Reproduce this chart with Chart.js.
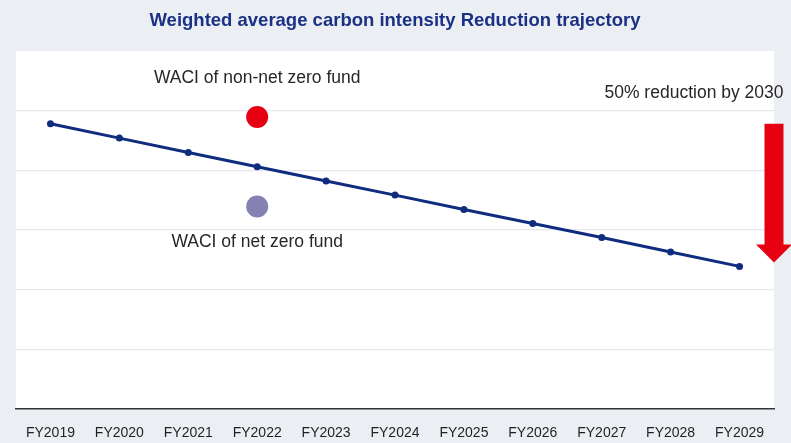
<!DOCTYPE html>
<html>
<head>
<meta charset="utf-8">
<script src="https://cdn.jsdelivr.net/npm/chart.js@4.4.1/dist/chart.umd.min.js"></script>
<style>
  html, body { margin: 0; padding: 0; background: #ebeef2; }
  #wrap { width: 791px; height: 443px; position: relative; }
</style>
</head>
<body>
<div id="wrap"><canvas id="c" width="791" height="443"></canvas></div>
<script>
const categories = ['FY2019','FY2020','FY2021','FY2022','FY2023','FY2024','FY2025','FY2026','FY2027','FY2028','FY2029'];
const trajectory = [95.6, 90.8, 86.0, 81.2, 76.4, 71.7, 66.9, 62.2, 57.5, 52.6, 47.8];
const nonNetZeroFund = [null, null, null, 97.9, null, null, null, null, null, null, null];
const netZeroFund = [null, null, null, 67.9, null, null, null, null, null, null, null];
const yTicks = [0, 20, 40, 60, 80, 100, 120];
const titleText = 'Weighted average carbon intensity Reduction trajectory';
const labelNonNet = 'WACI of non-net zero fund';
const labelNet = 'WACI of net zero fund';
const labelTarget = '50% reduction by 2030';

const FONT = '"Liberation Sans", Arial, Helvetica, sans-serif';

const panelPlugin = {
  id: 'panel',
  beforeDraw(chart) {
    const { ctx, chartArea: a } = chart;
    ctx.save();
    ctx.fillStyle = '#ebeef2';
    ctx.fillRect(0, 0, chart.width, chart.height);
    ctx.fillStyle = '#ffffff';
    ctx.fillRect(a.left, a.top, a.right - a.left, a.bottom - a.top);
    ctx.restore();
  }
};

const annotPlugin = {
  id: 'annot',
  afterDraw(chart) {
    const { ctx, chartArea: a, scales: { x, y } } = chart;
    ctx.save();
    ctx.font = '17.5px ' + FONT;
    ctx.fillStyle = '#2a2627';
    ctx.textAlign = 'center';
    ctx.textBaseline = 'middle';
    const i = nonNetZeroFund.findIndex(v => v !== null);
    const j = netZeroFund.findIndex(v => v !== null);
    ctx.fillText(labelNonNet, x.getPixelForValue(i), y.getPixelForValue(nonNetZeroFund[i]) - 39);
    ctx.fillText(labelNet, x.getPixelForValue(j), y.getPixelForValue(netZeroFund[j]) + 36);

    // arrow
    const cx = a.right;
    const top = y.getPixelForValue(trajectory[0]);
    const tip = y.getPixelForValue(trajectory[trajectory.length - 1]) - 4;
    const shaftHalf = 9.5, headHalf = 18, headLen = 18;
    ctx.fillStyle = '#e60012';
    ctx.beginPath();
    ctx.moveTo(cx - shaftHalf, top);
    ctx.lineTo(cx + shaftHalf, top);
    ctx.lineTo(cx + shaftHalf, tip - headLen);
    ctx.lineTo(cx + headHalf, tip - headLen);
    ctx.lineTo(cx, tip);
    ctx.lineTo(cx - headHalf, tip - headLen);
    ctx.lineTo(cx - shaftHalf, tip - headLen);
    ctx.closePath();
    ctx.fill();

    ctx.fillStyle = '#2a2627';
    ctx.textAlign = 'right';
    ctx.fillText(labelTarget, cx + shaftHalf, top - 31);
    ctx.restore();
  }
};

new Chart(document.getElementById('c'), {
  type: 'line',
  data: {
    labels: categories,
    datasets: [
      {
        data: trajectory,
        borderColor: '#0f2c7e',
        backgroundColor: '#0f2c7e',
        borderWidth: 3,
        pointRadius: 3.5,
        pointBorderWidth: 0,
        tension: 0,
        order: 2
      },
      {
        data: nonNetZeroFund,
        showLine: false,
        pointRadius: 11,
        pointBorderWidth: 0,
        backgroundColor: '#e60012',
        borderColor: '#e60012',
        order: 1
      },
      {
        data: netZeroFund,
        showLine: false,
        pointRadius: 11,
        pointBorderWidth: 0,
        backgroundColor: '#8582b3',
        borderColor: '#8582b3',
        order: 1
      }
    ]
  },
  options: {
    responsive: false,
    animation: false,
    events: [],
    layout: { padding: { left: 16, right: 17, top: 0, bottom: 0 } },
    plugins: {
      legend: { display: false },
      tooltip: { enabled: false },
      title: {
        display: true,
        text: titleText,
        color: '#1b3185',
        font: { family: FONT, size: 18.5, weight: 'bold' },
        padding: { top: 10, bottom: 18.8 }
      }
    },
    scales: {
      x: {
        offset: true,
        afterFit(scale) { scale.height = 34; },
        grid: { display: false, drawTicks: false },
        border: { display: true, color: '#333333', width: 1.5 },
        ticks: { color: '#231f20', font: { family: FONT, size: 14 }, padding: 16, maxRotation: 0, autoSkip: false }
      },
      y: {
        min: yTicks[0],
        max: yTicks[yTicks.length - 1],
        afterBuildTicks(scale) { scale.ticks = yTicks.map(v => ({ value: v })); },
        afterFit(scale) { scale.width = 0; },
        grid: {
          color: ctx => (ctx.tick.value === yTicks[0] || ctx.tick.value === yTicks[yTicks.length - 1]) ? 'rgba(0,0,0,0)' : '#e7e7f1',
          lineWidth: 1.2,
          drawTicks: false
        },
        border: { display: false },
        ticks: { display: false }
      }
    }
  },
  plugins: [panelPlugin, annotPlugin]
});
</script>
</body>
</html>
